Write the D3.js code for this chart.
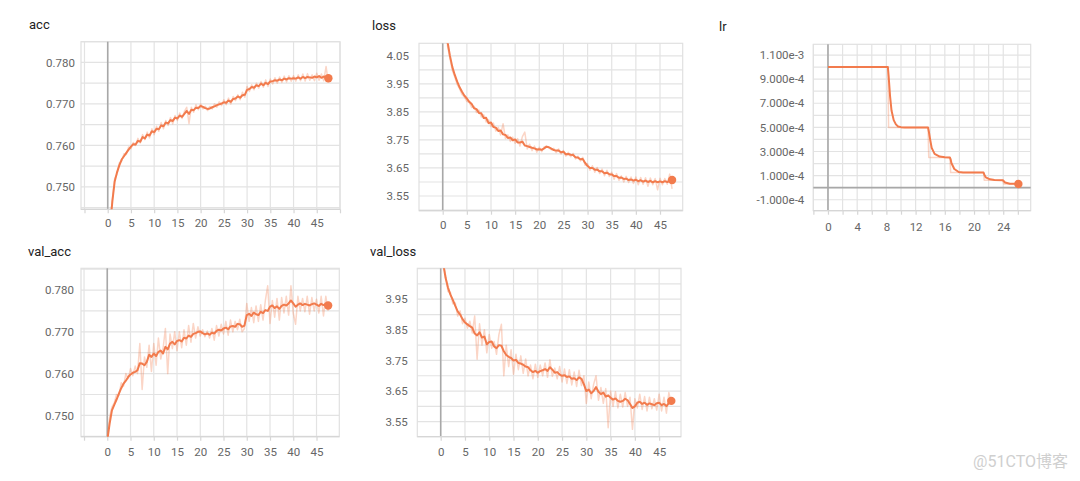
<!DOCTYPE html>
<html><head><meta charset="utf-8">
<script src="https://cdn.jsdelivr.net/npm/d3@7"></script>
<style>
html,body{margin:0;padding:0;background:#fff;}
svg{display:block;font-family:Roboto,"Liberation Sans",Arial,sans-serif;}
</style></head>
<body>
<svg id="chart" width="1080" height="481"></svg>
<script>
// ---------- DATA ----------
const steps = [0,0.5,1,1.5,2,2.5,3,3.5,4,4.5,5,5.5,6,6.5,7,7.5,8,8.5,9,9.5,10,10.5,11,11.5,12,12.5,13,13.5,14,14.5,15,15.5,16,16.5,17,17.5,18,18.5,19,19.5,20,20.5,21,21.5,22,22.5,23,23.5,24,24.5,25,25.5,26,26.5,27,27.5,28,28.5,29,29.5,30,30.5,31,31.5,32,32.5,33,33.5,34,34.5,35,35.5,36,36.5,37,37.5,38,38.5,39,39.5,40,40.5,41,41.5,42,42.5,43,43.5,44,44.5,45,45.5,46,46.5,47,47.5];

const accSmooth = [0.7350,0.7405,0.7465,0.7513,0.7535,0.7552,0.7566,0.7574,0.7582,0.7590,0.7597,0.7603,0.7602,0.7611,0.7609,0.7620,0.7617,0.7626,0.7624,0.7634,0.7632,0.7640,0.7639,0.7648,0.7646,0.7655,0.7653,0.7661,0.7659,0.7667,0.7665,0.7672,0.7669,0.7676,0.7683,0.7676,0.7686,0.7685,0.7691,0.7690,0.7695,0.7693,0.7690,0.7688,0.7689,0.7692,0.7694,0.7697,0.7699,0.7701,0.7704,0.7703,0.7708,0.7705,0.7712,0.7713,0.7718,0.7715,0.7721,0.7722,0.7734,0.7736,0.7741,0.7739,0.7745,0.7743,0.7749,0.7745,0.7751,0.7748,0.7754,0.7755,0.7757,0.7756,0.7759,0.7757,0.7761,0.7759,0.7762,0.7761,0.7762,0.7761,0.7764,0.7761,0.7765,0.7762,0.7765,0.7764,0.7763,0.7766,0.7764,0.7767,0.7763,0.7766,0.7764,0.7762];
const accRaw = [0.7350,0.7415,0.7470,0.7520,0.7530,0.7558,0.7562,0.7580,0.7578,0.7596,0.7592,0.7607,0.7600,0.7617,0.7606,0.7626,0.7614,0.7632,0.7618,0.7640,0.7626,0.7646,0.7634,0.7655,0.7640,0.7660,0.7648,0.7667,0.7652,0.7672,0.7660,0.7678,0.7665,0.7682,0.7692,0.7653,0.7692,0.7680,0.7698,0.7686,0.7700,0.7688,0.7694,0.7684,0.7694,0.7688,0.7700,0.7692,0.7705,0.7696,0.7710,0.7698,0.7714,0.7700,0.7718,0.7708,0.7722,0.7710,0.7728,0.7716,0.7742,0.7730,0.7746,0.7734,0.7750,0.7738,0.7754,0.7740,0.7758,0.7742,0.7760,0.7748,0.7763,0.7750,0.7765,0.7752,0.7767,0.7753,0.7768,0.7755,0.7768,0.7755,0.7770,0.7756,0.7772,0.7755,0.7773,0.7757,0.7770,0.7756,0.7774,0.7757,0.7772,0.7756,0.7790,0.7752];

const lossSmooth = [4.40,4.22,4.10,4.05,4.010,3.982,3.958,3.938,3.922,3.908,3.898,3.886,3.878,3.863,3.860,3.846,3.845,3.828,3.829,3.810,3.812,3.796,3.794,3.782,3.784,3.770,3.768,3.757,3.759,3.749,3.752,3.741,3.741,3.744,3.730,3.728,3.725,3.722,3.720,3.716,3.717,3.715,3.720,3.726,3.724,3.719,3.714,3.712,3.712,3.706,3.708,3.699,3.700,3.697,3.696,3.688,3.687,3.681,3.682,3.668,3.657,3.650,3.650,3.644,3.644,3.638,3.638,3.631,3.633,3.628,3.627,3.621,3.621,3.615,3.616,3.611,3.612,3.607,3.609,3.605,3.608,3.603,3.606,3.601,3.605,3.600,3.604,3.599,3.603,3.599,3.602,3.599,3.603,3.600,3.604,3.607];
const lossRaw = [4.40,4.20,4.085,4.040,3.998,3.975,3.948,3.932,3.912,3.903,3.888,3.884,3.866,3.870,3.848,3.857,3.832,3.840,3.814,3.822,3.798,3.810,3.782,3.795,3.768,3.808,3.755,3.768,3.745,3.760,3.738,3.755,3.728,3.762,3.778,3.718,3.735,3.712,3.728,3.706,3.724,3.708,3.725,3.728,3.722,3.715,3.720,3.705,3.718,3.700,3.712,3.692,3.706,3.690,3.702,3.682,3.692,3.675,3.688,3.660,3.665,3.642,3.658,3.635,3.652,3.630,3.646,3.622,3.642,3.620,3.635,3.610,3.630,3.606,3.622,3.600,3.620,3.598,3.618,3.595,3.618,3.590,3.616,3.592,3.615,3.585,3.614,3.590,3.612,3.572,3.613,3.590,3.612,3.592,3.628,3.575];

const valAccSmooth = [0.7440,0.7480,0.7512,0.7525,0.7538,0.7552,0.7565,0.7576,0.7583,0.7592,0.7598,0.7602,0.7604,0.7608,0.7625,0.7624,0.7620,0.7628,0.7645,0.7640,0.7648,0.7642,0.7652,0.7655,0.7648,0.7664,0.7658,0.7672,0.7676,0.7670,0.7678,0.7680,0.7677,0.7686,0.7684,0.7691,0.7688,0.7695,0.7697,0.7700,0.7701,0.7697,0.7694,0.7696,0.7693,0.7698,0.7696,0.7702,0.7705,0.7703,0.7708,0.7710,0.7706,0.7713,0.7714,0.7712,0.7719,0.7718,0.7712,0.7715,0.7740,0.7743,0.7738,0.7746,0.7742,0.7740,0.7748,0.7745,0.7752,0.7750,0.7760,0.7763,0.7757,0.7761,0.7755,0.7762,0.7765,0.7763,0.7768,0.7775,0.7768,0.7760,0.7765,0.7768,0.7764,0.7767,0.7765,0.7763,0.7766,0.7768,0.7765,0.7762,0.7767,0.7764,0.7767,0.7763];
const valAccRaw = [0.7440,0.7495,0.7520,0.7530,0.7550,0.7548,0.7578,0.7570,0.7600,0.7588,0.7612,0.7595,0.7618,0.7600,0.7672,0.7562,0.7640,0.7615,0.7668,0.7605,0.7672,0.7620,0.7685,0.7635,0.7660,0.7708,0.7600,0.7695,0.7660,0.7700,0.7655,0.7700,0.7662,0.7705,0.7668,0.7715,0.7675,0.7720,0.7685,0.7712,0.7690,0.7705,0.7688,0.7702,0.7685,0.7708,0.7680,0.7715,0.7690,0.7718,0.7695,0.7725,0.7692,0.7728,0.7700,0.7725,0.7705,0.7730,0.7700,0.7708,0.7768,0.7725,0.7758,0.7722,0.7762,0.7725,0.7765,0.7728,0.7775,0.7810,0.7720,0.7775,0.7735,0.7780,0.7728,0.7782,0.7745,0.7785,0.7740,0.7810,0.7745,0.7718,0.7785,0.7750,0.7780,0.7748,0.7785,0.7742,0.7782,0.7750,0.7778,0.7745,0.7785,0.7738,0.7785,0.7750];

const valLossSmooth = [4.20,4.07,4.02,3.988,3.965,3.948,3.928,3.910,3.900,3.885,3.874,3.868,3.862,3.857,3.838,3.832,3.842,3.825,3.828,3.803,3.810,3.812,3.796,3.790,3.800,3.798,3.780,3.768,3.762,3.758,3.750,3.752,3.742,3.740,3.736,3.730,3.728,3.718,3.712,3.716,3.710,3.715,3.718,3.722,3.716,3.728,3.720,3.710,3.712,3.704,3.700,3.702,3.696,3.698,3.690,3.692,3.686,3.695,3.690,3.672,3.650,3.655,3.643,3.650,3.663,3.648,3.640,3.645,3.632,3.636,3.628,3.622,3.626,3.618,3.615,3.618,3.625,3.620,3.608,3.595,3.600,3.612,3.615,3.608,3.612,3.605,3.610,3.607,3.604,3.610,3.612,3.604,3.608,3.601,3.611,3.618];
const valLossRaw = [4.20,4.06,4.03,3.975,3.972,3.935,3.938,3.895,3.912,3.870,3.888,3.855,3.878,3.840,3.895,3.754,3.870,3.800,3.850,3.775,3.835,3.790,3.812,3.770,3.835,3.868,3.700,3.800,3.730,3.785,3.705,3.770,3.720,3.765,3.708,3.755,3.700,3.735,3.690,3.738,3.695,3.735,3.700,3.742,3.695,3.752,3.698,3.725,3.690,3.730,3.680,3.722,3.675,3.720,3.670,3.712,3.665,3.718,3.668,3.700,3.610,3.680,3.625,3.672,3.700,3.620,3.662,3.610,3.658,3.530,3.650,3.600,3.648,3.595,3.640,3.598,3.645,3.600,3.630,3.525,3.625,3.595,3.640,3.590,3.632,3.585,3.630,3.592,3.625,3.588,3.640,3.585,3.630,3.578,3.645,3.610];

const lrSteps = [0,8.2,8.3,8.5,8.7,9.0,9.3,9.6,10.0,10.5,13.7,13.8,14.0,14.2,14.6,15.3,16.0,16.7,16.8,16.9,17.3,17.9,18.5,21.3,21.4,21.6,22.2,22.8,23.95,24.05,24.25,24.9,25.5,26.07];
const lrSmooth = [1e-3,1e-3,9.3e-4,7.6e-4,6.4e-4,5.6e-4,5.25e-4,5.08e-4,5.02e-4,5.0e-4,5.0e-4,4.7e-4,3.97e-4,3.3e-4,2.8e-4,2.58e-4,2.52e-4,2.5e-4,2.35e-4,2.05e-4,1.55e-4,1.3e-4,1.26e-4,1.25e-4,1.1e-4,8.5e-5,6.9e-5,6.3e-5,6.25e-5,5.5e-5,4.3e-5,3.3e-5,3.15e-5,3.1e-5];
const lrRaw = [1e-3,1e-3,5e-4,5e-4,5e-4,5e-4,5e-4,5e-4,5e-4,5e-4,5e-4,2.5e-4,2.5e-4,2.5e-4,2.5e-4,2.5e-4,2.5e-4,2.5e-4,1.25e-4,1.25e-4,1.25e-4,1.25e-4,1.25e-4,1.25e-4,6.25e-5,6.25e-5,6.25e-5,6.25e-5,6.25e-5,3.125e-5,3.125e-5,3.125e-5,3.125e-5,3.125e-5];

const epochTickLabels = [0,5,10,15,20,25,30,35,40,45];
const lrTickLabels = [0,4,8,12,16,20,24];
const accTickLabels = [0.750,0.760,0.770,0.780];
const lossTickLabels = [3.55,3.65,3.75,3.85,3.95,4.05];
const valLossTickLabels = [3.55,3.65,3.75,3.85,3.95];
const lrYTickLabels = [-1e-4,1e-4,3e-4,5e-4,7e-4,9e-4,1.1e-3];

// ---------- LAYOUT ----------
const COLOR = "#f27b4d";
const panels = [
  {title:"acc", tx:29, ty:29, x:steps, raw:accRaw, smooth:accSmooth,
   box:[81,41.7,340,209.3], xd:[-5.75,50.0], yd:[0.7446,0.785],
   xGrid:5, yGrid:0.005, xLab:epochTickLabels, yLab:accTickLabels, yFmt:d3.format(".3f"), yGap:6, xPad:6},
  {title:"loss", tx:372, ty:30, x:steps, raw:lossRaw, smooth:lossSmooth,
   box:[419,43.3,682.7,210.7], xd:[-4.91,49.7], yd:[3.4975,4.095],
   xGrid:5, yGrid:0.05, xLab:epochTickLabels, yLab:lossTickLabels, yFmt:d3.format(".2f"), yGap:10, xPad:6},
  {title:"lr", tx:719, ty:30.5, x:lrSteps, raw:lrRaw, smooth:lrSmooth,
   box:[813.3,44.3,1030.7,210.7], xd:[-2.01,27.76], yd:[-1.91e-4,1.189e-3],
   xGrid:2, yGrid:1e-4, xLab:lrTickLabels, yLab:lrYTickLabels, yFmt:d=>d.toExponential(3), yGap:9, xPad:8, zeroY:true},
  {title:"val_acc", tx:28, ty:256, x:steps, raw:valAccRaw, smooth:valAccSmooth,
   box:[81,268.3,339.3,436.7], xd:[-5.65,49.9], yd:[0.7449,0.7852],
   xGrid:5, yGrid:0.005, xLab:epochTickLabels, yLab:accTickLabels, yFmt:d3.format(".3f"), yGap:7, xPad:7},
  {title:"val_loss", tx:370, ty:256, x:steps, raw:valLossRaw, smooth:valLossSmooth,
   box:[417.3,268.3,681,436.7], xd:[-4.82,49.5], yd:[3.501,4.051],
   xGrid:5, yGrid:0.05, xLab:epochTickLabels, yLab:valLossTickLabels, yFmt:d3.format(".2f"), yGap:9.5, xPad:7}
];

const svg = d3.select("#chart");
const defs = svg.append("defs");

panels.forEach((p, i) => {
  const [x0, y0, x1, y1] = p.box;
  const x = d3.scaleLinear().domain(p.xd).range([x0, x1]);
  const y = d3.scaleLinear().domain(p.yd).range([y1, y0]);
  const g = svg.append("g");

  g.append("text").attr("x", p.tx).attr("y", p.ty).text(p.title)
    .attr("font-size", 13).attr("fill", "#212121");

  const eps = 1e-9;
  const xg = d3.range(Math.ceil(p.xd[0]/p.xGrid - eps)*p.xGrid, p.xd[1]+eps, p.xGrid);
  const yStart = Math.ceil(p.yd[0]/p.yGrid - 1e-6);
  const yg = d3.range(yStart, Math.floor(p.yd[1]/p.yGrid + 1e-6) + 1).map(k => k*p.yGrid);
  g.append("g").selectAll("line").data(xg).join("line")
    .attr("x1", d => x(d)).attr("x2", d => x(d)).attr("y1", y0).attr("y2", y1)
    .attr("stroke", "#e3e3e3").attr("stroke-width", 1.2);
  g.append("g").selectAll("line").data(yg).join("line")
    .attr("x1", x0).attr("x2", x1).attr("y1", d => y(d)).attr("y2", d => y(d))
    .attr("stroke", "#e3e3e3").attr("stroke-width", 1.2);
  g.append("rect").attr("x", x0).attr("y", y0).attr("width", x1-x0).attr("height", y1-y0)
    .attr("fill", "none").attr("stroke", "#e0e0e0").attr("stroke-width", 1.2);

  g.append("line").attr("x1", x(0)).attr("x2", x(0)).attr("y1", y0).attr("y2", y1)
    .attr("stroke", "#a8a8a8").attr("stroke-width", 1.6);
  if (p.zeroY) {
    g.append("line").attr("x1", x0).attr("x2", x1).attr("y1", y(0)).attr("y2", y(0))
      .attr("stroke", "#a8a8a8").attr("stroke-width", 1.6);
  }

  const ax = g.append("g").attr("transform", `translate(0,${y1})`)
    .call(d3.axisBottom(x).tickValues(xg).tickSize(4).tickPadding(p.xPad)
      .tickFormat(d => p.xLab.some(v => Math.abs(v-d) < 1e-9) ? d3.format("d")(d) : ""));
  ax.select(".domain").attr("stroke", "#d6d6d6").attr("stroke-width", 1.2).attr("d", `M${x0},0H${x1}`);
  ax.selectAll(".tick line").attr("stroke", "#d6d6d6").attr("stroke-width", 1.2);
  ax.selectAll("text").attr("font-size", 11.5).attr("fill", "#666").attr("font-family", "Roboto");

  const ay = g.append("g").attr("transform", `translate(${x0},0)`)
    .call(d3.axisLeft(y).tickValues(p.yLab).tickSize(0).tickPadding(p.yGap).tickFormat(p.yFmt));
  ay.select(".domain").remove();
  ay.selectAll("text").attr("font-size", 11.5).attr("fill", "#666").attr("font-family", "Roboto");

  const cid = "clip" + i;
  defs.append("clipPath").attr("id", cid).append("rect")
    .attr("x", x0).attr("y", y0).attr("width", x1-x0).attr("height", y1-y0);
  const plot = g.append("g").attr("clip-path", `url(#${cid})`);

  const rawPts = p.x.map((s, k) => [s, p.raw[k]]);
  const smPts = p.x.map((s, k) => [s, p.smooth[k]]);
  const line = d3.line().x(d => x(d[0])).y(d => y(d[1]));

  plot.append("path").attr("d", line(rawPts)).attr("fill", "none")
    .attr("stroke", COLOR).attr("stroke-opacity", 0.32).attr("stroke-width", 1.5)
    .attr("stroke-linejoin", "round");
  plot.append("path").attr("d", line(smPts)).attr("fill", "none")
    .attr("stroke", COLOR).attr("stroke-width", 2).attr("stroke-linejoin", "round");

  const last = smPts[smPts.length-1];
  g.append("circle").attr("cx", x(last[0])).attr("cy", y(last[1])).attr("r", 4.2)
    .attr("fill", COLOR);
});

svg.append("text").attr("x", 1068).attr("y", 467).attr("text-anchor", "end")
  .attr("font-size", 16).attr("fill", "#cfcfcf")
  .attr("font-family", "Roboto, 'Noto Sans CJK SC', sans-serif")
  .text("@51CTO博客");
</script>
</body></html>
